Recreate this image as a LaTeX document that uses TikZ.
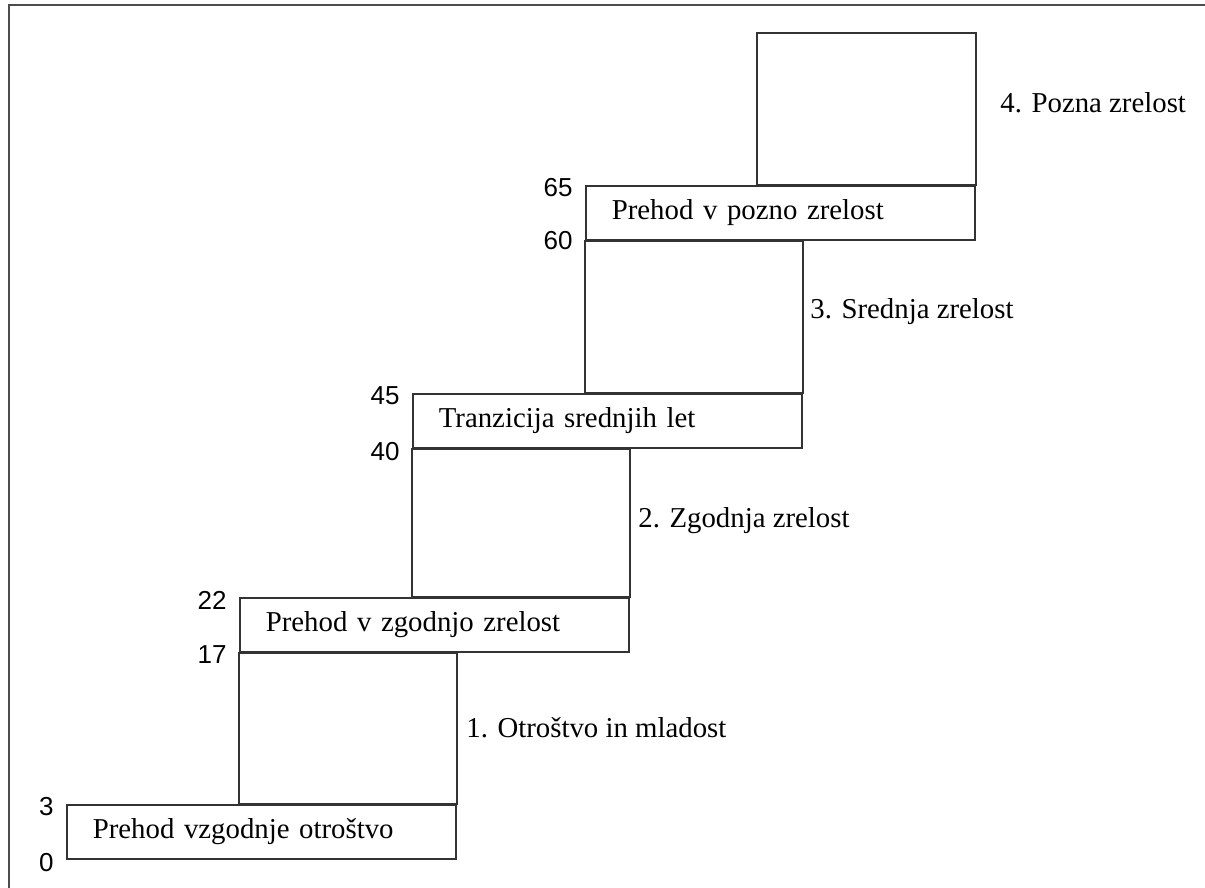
\documentclass[tikz,border=0pt]{standalone}
\usepackage{fontspec}
\setmainfont{Liberation Serif}
\newfontfamily\agefont{Liberation Sans}
\begin{document}
\begin{tikzpicture}[x=0.5pt, y=-0.5pt,
  every node/.style={font=\fontsize{14.4}{17}\selectfont},
  edge/.style={draw=black!80, line width=0.85pt},
  trans/.style={edge, anchor=north west, minimum width=194.5pt, minimum height=27pt,
    text width=168.5pt, inner xsep=13pt, inner ysep=0pt, align=left},
  age/.style={font=\agefont\fontsize{13}{15}\selectfont, anchor=east, inner sep=0pt},
  stage/.style={anchor=west, inner sep=0pt}]
\useasboundingbox (0,0) rectangle (1205,888);
% frame
\coordinate (fb) at (9,888);
\coordinate (fc) at (9,5);
\coordinate (fr) at (1205,5);
\draw[draw=black!70, line width=1pt] (fb) -- (fc) -- (fr);
% transition boxes
\node[trans] (t1) at (66,804) {Prehod vzgodnje otroštvo};
\node[trans] (t2) at (239,597) {Prehod v zgodnjo zrelost};
\node[trans] (t3) at (412,393) {Tranzicija srednjih let};
\node[trans] (t4) at (585,185) {Prehod v pozno zrelost};
\coordinate (top) at (757,33);
% stages
\draw[edge] (t2.south west) rectangle (t1.north east);
\draw[edge] (t3.south west) rectangle (t2.north east);
\draw[edge] (t4.south west) rectangle (t3.north east);
\draw[edge] (top) rectangle (t4.north east);
\node[stage] (s1) at (466,728) {1. Otroštvo in mladost};
\node[stage] (s2) at (638,521) {2. Zgodnja zrelost};
\node[stage] (s3) at (810,312) {3. Srednja zrelost};
\node[stage] (s4) at (1000,103) {4. Pozna zrelost};
% ages
\node[age] (a0) at ([xshift=-6pt,yshift=-1.5pt]t1.south west) {0};
\node[age] (a3) at ([xshift=-6pt,yshift=-1.5pt]t1.north west) {3};
\node[age] (a17) at ([xshift=-6pt,yshift=-1pt]t2.south west) {17};
\node[age] (a22) at ([xshift=-6pt,yshift=-1.5pt]t2.north west) {22};
\node[age] (a40) at ([xshift=-6pt,yshift=-1.5pt]t3.south west) {40};
\node[age] (a45) at ([xshift=-6pt,yshift=-1.5pt]t3.north west) {45};
\node[age] (a60) at ([xshift=-6pt,yshift=0pt]t4.south west) {60};
\node[age] (a65) at ([xshift=-6pt,yshift=-1.5pt]t4.north west) {65};
\end{tikzpicture}
\end{document}
